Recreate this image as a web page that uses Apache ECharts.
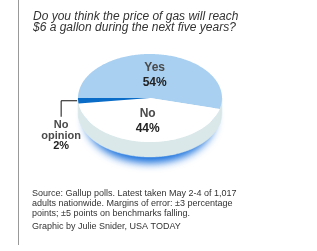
<!DOCTYPE html>
<html>
<head>
<meta charset="utf-8">
<script src="https://cdn.jsdelivr.net/npm/echarts@6/dist/echarts.min.js"></script>
<style>
  html, body { margin: 0; padding: 0; background: #fff; }
  #chart { width: 317px; height: 251px; }
</style>
</head>
<body>
<div id="chart"></div>
<script>
// poll answers
const categories = ['Yes', 'No', 'No opinion']
const values = [54, 44, 2]
const sliceColors = ['#a9d0f0', '#ffffff', '#0a6cc6']

const question = 'Do you think the price of gas will reach\n$6 a gallon during the next five years?'
const sourceNote = 'Source: Gallup polls. Latest taken May 2-4 of 1,017\nadults nationwide. Margins of error: \u00b13 percentage\npoints; \u00b15 points on benchmarks falling.'
const credit = 'Graphic by Julie Snider, USA TODAY'

const FONT = '"Liberation Sans", Arial, sans-serif'

// flattened pie geometry
const cx = 150, cy = 98, rx = 72, ry = 44, depth = 15
const total = values.reduce((a, b) => a + b, 0)

const pt = (deg, dy = 0) => {
  const r = deg * Math.PI / 180
  return [cx + rx * Math.cos(r), cy - ry * Math.sin(r) + dy]
}

const arc = (from, to, dy = 0) => {
  const pts = []
  const n = Math.max(2, Math.ceil(Math.abs(to - from)))
  for (let i = 0; i <= n; i++) pts.push(pt(from + (to - from) * i / n, dy))
  return pts
}

const chart = echarts.init(document.getElementById('chart'))

const renderItem = (params) => {
  const i = params.dataIndex
  const before = values.slice(0, i).reduce((a, b) => a + b, 0)
  // start at the left edge and run clockwise
  const start = 180 - 360 * before / total
  const end = start - 360 * values[i] / total
  const children = []

  // visible side wall (front half of the disc)
  const lo = Math.max(end, -180), hi = Math.min(start, 0)
  if (hi > lo) {
    const top = arc(lo, hi)
    const bottom = arc(hi, lo, depth)
    children.push({
      type: 'polygon',
      z2: 1,
      shape: { points: top.concat(bottom) },
      style: { fill: '#dbe8ea', stroke: '#dbe8ea', lineWidth: 0.5 }
    })
  }

  // top face
  children.push({
    type: 'polygon',
    z2: 5,
    shape: { points: [[cx, cy]].concat(arc(start, end)) },
    style: { fill: sliceColors[i] }
  })

  const mid = (start + end) / 2
  if (values[i] / total > 0.1) {
    const k = 0.52
    const p = [cx + rx * k * Math.cos(mid * Math.PI / 180), cy - ry * k * Math.sin(mid * Math.PI / 180)]
    children.push({
      type: 'text',
      z2: 10,
      x: p[0],
      y: p[1],
      style: {
        text: '{n|' + categories[i] + '}\n{p|' + values[i] + '%}',
        align: 'center',
        verticalAlign: 'middle',
        rich: {
          n: { fontFamily: FONT, fontSize: 12, fontWeight: 'bold', fill: '#4a4a4a', lineHeight: 15, align: 'center' },
          p: { fontFamily: FONT, fontSize: 12, fontWeight: 'bold', fill: '#222', lineHeight: 15, align: 'center' }
        }
      }
    })
  } else {
    // small slice: label outside with an elbow leader
    const e = pt(mid)
    const elbowX = e[0] - 17
    const downY = e[1] + 16
    children.push({
      type: 'polyline',
      z2: 10,
      shape: { points: [[e[0] - 1, e[1]], [elbowX, e[1]], [elbowX, downY]] },
      style: { stroke: '#111', lineWidth: 1, fill: null }
    })
    children.push({
      type: 'text',
      z2: 10,
      x: elbowX,
      y: downY + 3,
      style: {
        text: categories[i].split(' ').map(w => '{n|' + w + '}').join('\n') + '\n{p|' + values[i] + '%}',
        align: 'center',
        verticalAlign: 'top',
        rich: {
          n: { fontFamily: FONT, fontSize: 11, fontWeight: 'bold', fill: '#4a4a4a', lineHeight: 10.5, align: 'center' },
          p: { fontFamily: FONT, fontSize: 11, fontWeight: 'bold', fill: '#222', lineHeight: 10.5, align: 'center' }
        }
      }
    })
  }

  return { type: 'group', children }
}

const option = {
  animation: false,
  backgroundColor: '#fff',
  title: [
    {
      text: question,
      left: 33,
      top: 11,
      padding: 0,
      textStyle: { fontFamily: FONT, fontSize: 12, fontStyle: 'italic', fontWeight: 'normal', color: '#333', lineHeight: 11 }
    },
    {
      text: sourceNote,
      left: 32,
      top: 189,
      padding: 0,
      textStyle: { fontFamily: FONT, fontSize: 9, fontWeight: 'normal', color: '#333', lineHeight: 10 }
    },
    {
      text: credit,
      left: 32,
      top: 222,
      padding: 0,
      textStyle: { fontFamily: FONT, fontSize: 9, fontWeight: 'normal', color: '#333', lineHeight: 10 }
    }
  ],
  graphic: [
    {
      type: 'line',
      shape: { x1: 18.5, y1: 0, x2: 18.5, y2: 245 },
      style: { stroke: '#999', lineWidth: 1 }
    },
    {
      // soft blue shadow hugging the bottom of the disc
      type: 'ellipse',
      z: 0,
      shape: { cx: cx, cy: cy + depth - 6, rx: rx - 7, ry: ry },
      style: {
        fill: '#fff',
        shadowBlur: 8,
        shadowOffsetY: 12,
        shadowColor: 'rgba(20,110,220,1)'
      }
    }
  ],
  series: [
    {
      type: 'custom',
      coordinateSystem: 'none',
      z: 2,
      data: values.map((v, i) => ({ name: categories[i], value: v })),
      renderItem
    }
  ]
}

chart.setOption(option)
</script>
</body>
</html>
